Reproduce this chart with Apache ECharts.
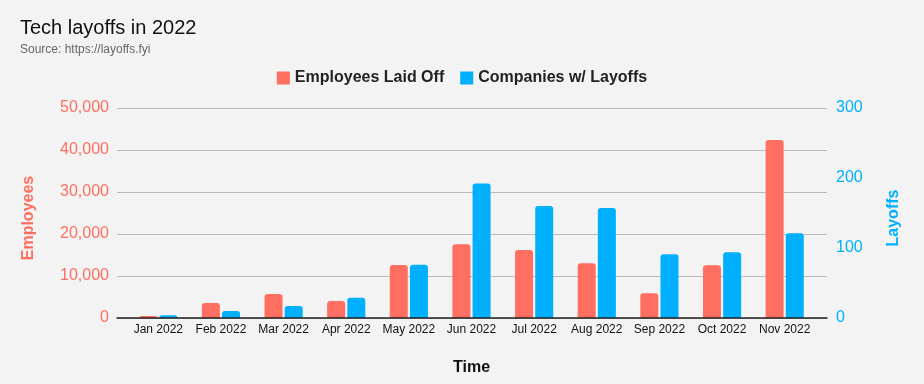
<!DOCTYPE html>
<html><head><meta charset="utf-8">
<script src="https://cdn.jsdelivr.net/npm/echarts@6/dist/echarts.min.js"></script>
<style>html,body{margin:0;padding:0;background:#f3f3f3}#c{width:924px;height:384px}</style>
</head><body><div id="c"></div>
<script>
const categories = ['Jan 2022','Feb 2022','Mar 2022','Apr 2022','May 2022','Jun 2022','Jul 2022','Aug 2022','Sep 2022','Oct 2022','Nov 2022'];
const employeesLaidOff = [480, 3570, 5710, 4050, 12620, 17540, 16190, 13020, 5870, 12540, 42380];
const companiesWithLayoffs = [4, 10, 17, 29, 76, 192, 160, 157, 91, 94, 121];
const leftTicks = [0, 10000, 20000, 30000, 40000, 50000];
const rightTicks = [0, 100, 200, 300];

const RED = '#ff6f61', BLUE = '#00b0ff';
const FONT = '"Liberation Sans", Arial, sans-serif';
const chart = echarts.init(document.getElementById('c'));
chart.setOption({
  backgroundColor: '#f3f3f3',
  textStyle: { fontFamily: FONT },
  title: {
    text: 'Tech layoffs in 2022', subtext: 'Source: https://layoffs.fyi',
    left: 15, top: 13, itemGap: 6,
    textStyle: { fontFamily: FONT, fontSize: 20, fontWeight: 'normal', color: '#111' },
    subtextStyle: { fontFamily: FONT, fontSize: 12, color: '#666' }
  },
  legend: {
    top: 65, left: 'center', itemWidth: 13, itemHeight: 13, itemGap: 16,
    icon: 'rect',
    data: ['Employees Laid Off', 'Companies w/ Layoffs'],
    textStyle: { fontFamily: FONT, fontSize: 16, fontWeight: 'bold', color: '#222' }
  },
  grid: [
    { left: 127, right: 108, top: 108, bottom: 66 },
    { left: 117, right: 97, top: 108, bottom: 66 }
  ],
  xAxis: [{
    type: 'category', data: categories, gridIndex: 0,
    name: 'Time', nameLocation: 'middle', nameGap: 42,
    nameTextStyle: { fontFamily: FONT, fontSize: 16, fontWeight: 'bold', color: '#111' },
    axisLine: { show: false },
    axisTick: { show: false },
    axisLabel: { fontSize: 12, color: '#111', margin: 6, interval: 0 }
  }, {
    type: 'category', data: [''], gridIndex: 1, z: 3,
    axisLine: { lineStyle: { color: '#222', width: 1.5 } },
    axisTick: { show: false }, axisLabel: { show: false }
  }],
  yAxis: [{
    type: 'value', min: 0, max: 50000, interval: 10000, gridIndex: 0,
    name: 'Employees', nameLocation: 'middle', nameGap: 90, nameRotate: 90,
    nameTextStyle: { fontFamily: FONT, fontSize: 16, fontWeight: 'bold', color: RED, padding: [0, 10, 0, 0] },
    axisLine: { show: false },
    axisTick: { show: false },
    splitLine: { show: false },
    axisLabel: { fontSize: 16, color: RED, margin: 18,
      formatter: v => leftTicks.includes(v) ? v.toLocaleString('en-US') : '' }
  }, {
    type: 'value', min: 0, max: 300, interval: 100, gridIndex: 0,
    name: 'Layoffs', nameLocation: 'middle', nameGap: 70, nameRotate: 90,
    nameTextStyle: { fontFamily: FONT, fontSize: 16, fontWeight: 'bold', color: BLUE, padding: [0, 10, 0, 0] },
    axisLine: { show: false },
    axisTick: { show: false },
    splitLine: { show: false },
    axisLabel: { fontSize: 16, color: BLUE, margin: 20,
      formatter: v => rightTicks.includes(v) ? String(v) : '' }
  }, {
    type: 'value', min: 0, max: 50000, interval: 10000, gridIndex: 1,
    axisLine: { show: false }, axisTick: { show: false }, axisLabel: { show: false },
    splitLine: { lineStyle: { color: '#bbb' } }
  }],
  series: [{
    name: 'Employees Laid Off', type: 'bar', xAxisIndex: 0, yAxisIndex: 0, data: employeesLaidOff,
    barWidth: 18, barGap: '12%', z: 2,
    itemStyle: { color: RED, borderRadius: [3, 3, 0, 0] }
  }, {
    name: 'Companies w/ Layoffs', type: 'bar', xAxisIndex: 0, yAxisIndex: 1, data: companiesWithLayoffs,
    barWidth: 18, z: 2,
    itemStyle: { color: BLUE, borderRadius: [3, 3, 0, 0] }
  }]
});
</script></body></html>
